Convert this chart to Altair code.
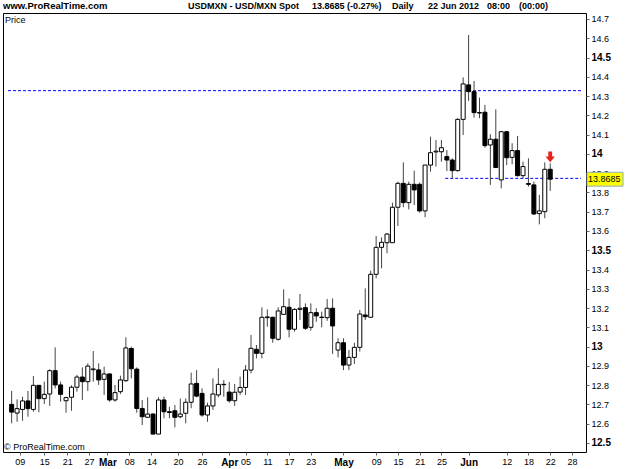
import altair as alt
import pandas as pd

# ---- data: USD/MXN daily candles (Feb .. 22 Jun 2012), one row per trading day ----
opens = [12.700, 12.655, 12.674, 12.718, 12.674, 12.799, 12.730, 12.754, 12.875, 12.801,
         12.719, 12.737, 12.789, 12.842, 12.818, 12.880, 12.879, 12.830, 12.858, 12.723,
         12.766, 12.823, 12.990, 12.883, 12.679, 12.633, 12.650, 12.546, 12.723, 12.662,
         12.667, 12.636, 12.654, 12.711, 12.809, 12.757, 12.645, 12.692, 12.749, 12.804,
         12.764, 12.719, 12.764, 12.788, 12.878, 12.986, 12.965, 13.150, 13.152, 13.038,
         13.167, 13.204, 13.090, 13.193, 13.202, 13.100, 13.176, 13.151, 13.150, 13.199,
         12.982, 13.020, 12.904, 12.944, 12.996, 13.164, 13.152, 13.375, 13.515, 13.539,
         13.539, 13.723, 13.847, 13.747, 13.842, 13.842, 13.704, 13.942, 14.010, 14.011,
         13.986, 13.968, 13.913, 14.179, 14.358, 14.323, 14.214, 14.216, 14.046, 14.076,
         13.865, 14.115, 13.982, 14.017, 13.887, 13.846, 13.839, 13.690, 13.700, 13.920]
highs = [12.770, 12.726, 12.740, 12.770, 12.847, 12.800, 12.818, 12.882, 12.996, 12.818,
         12.740, 12.799, 12.853, 12.892, 12.913, 12.977, 12.913, 12.896, 12.861, 12.801,
         12.849, 13.048, 13.000, 12.892, 12.723, 12.737, 12.654, 12.737, 12.740, 12.688,
         12.697, 12.730, 12.731, 12.865, 12.878, 12.783, 12.709, 12.835, 12.887, 12.826,
         12.816, 12.806, 12.844, 12.904, 13.060, 13.008, 13.204, 13.193, 13.155, 13.204,
         13.297, 13.250, 13.199, 13.273, 13.224, 13.224, 13.199, 13.181, 13.247, 13.250,
         13.043, 13.043, 12.982, 13.020, 13.190, 13.302, 13.394, 13.574, 13.567, 13.588,
         13.747, 13.856, 13.956, 13.856, 13.913, 13.851, 13.942, 14.089, 14.072, 14.072,
         14.020, 13.977, 14.185, 14.397, 14.617, 14.378, 14.292, 14.254, 14.102, 14.231,
         14.119, 14.119, 14.055, 14.093, 13.960, 13.977, 13.856, 13.787, 13.956, 13.951]
lows = [12.602, 12.610, 12.615, 12.636, 12.662, 12.659, 12.702, 12.692, 12.783, 12.714,
        12.657, 12.667, 12.766, 12.723, 12.770, 12.818, 12.801, 12.749, 12.714, 12.714,
        12.754, 12.818, 12.835, 12.657, 12.593, 12.633, 12.546, 12.546, 12.628, 12.628,
        12.581, 12.628, 12.602, 12.680, 12.737, 12.636, 12.610, 12.671, 12.737, 12.740,
        12.709, 12.692, 12.749, 12.749, 12.861, 12.939, 12.939, 13.103, 13.020, 13.031,
        13.164, 13.048, 13.077, 13.138, 13.086, 13.083, 13.129, 13.100, 13.134, 12.962,
        12.944, 12.878, 12.878, 12.910, 12.974, 13.138, 13.152, 13.354, 13.406, 13.484,
        13.539, 13.626, 13.723, 13.712, 13.735, 13.695, 13.671, 13.908, 13.934, 13.960,
        13.911, 13.873, 13.908, 14.098, 14.275, 14.188, 14.185, 14.032, 13.839, 13.929,
        13.821, 13.942, 13.946, 13.882, 13.873, 13.830, 13.683, 13.634, 13.666, 13.808]
closes = [12.660, 12.678, 12.718, 12.678, 12.799, 12.730, 12.752, 12.875, 12.801, 12.752,
          12.735, 12.789, 12.842, 12.818, 12.899, 12.884, 12.827, 12.858, 12.723, 12.761,
          12.827, 12.993, 12.885, 12.679, 12.636, 12.650, 12.546, 12.723, 12.662, 12.658,
          12.633, 12.650, 12.711, 12.806, 12.743, 12.645, 12.692, 12.754, 12.804, 12.802,
          12.719, 12.763, 12.788, 12.878, 12.991, 12.965, 13.152, 13.154, 13.043, 13.185,
          13.207, 13.090, 13.193, 13.199, 13.095, 13.176, 13.159, 13.153, 13.199, 13.107,
          13.020, 12.904, 12.944, 12.996, 13.169, 13.155, 13.375, 13.515, 13.541, 13.584,
          13.723, 13.847, 13.747, 13.842, 13.813, 13.704, 13.942, 14.006, 14.014, 14.032,
          13.968, 13.913, 14.179, 14.363, 14.323, 14.214, 14.212, 14.043, 14.076, 13.929,
          14.115, 13.980, 14.017, 13.887, 13.934, 13.842, 13.688, 13.704, 13.920, 13.8685]

# horizontal support / resistance lines (price, first bar index)
line_levels = [14.328, 13.873]
line_starts = [-0.67, 79.7]

# x-axis ticks (bar index) and their labels
tick_idx = [1.5, 6, 10.2, 14.2, 17.6, 21.6, 25.7, 30.6, 35, 40, 43, 47, 51, 55, 61, 67, 71, 75, 79, 84,
            91, 95, 99, 103]
tick_lbl = ["09", "15", "21", "27", "Mar", "08", "14", "20", "26", "Apr", "05", "11", "17", "23",
            "May", "09", "15", "21", "25", "Jun", "12", "18", "22", "28"]
month_idx = [17.6, 40, 61, 84]
y_ticks = [round(12.5 + 0.1 * i, 1) for i in range(23)]

X_MIN, X_MAX = -0.67, 104.66
Y_MIN, Y_MAX = 12.453, 14.731
FONT = "Liberation Sans"

df = pd.DataFrame({
    "i": list(range(len(opens))),
    "open": opens, "high": highs, "low": lows, "close": closes,
})

xs = alt.Scale(domain=[X_MIN, X_MAX], nice=False, zero=False)
ys = alt.Scale(domain=[Y_MIN, Y_MAX], nice=False, zero=False)

lbl_expr = "[" + ",".join("'%s'" % s for s in tick_lbl) + "][indexof([" + ",".join(str(v) for v in tick_idx) + "], datum.value)]"
month_test = "indexof([" + ",".join(str(v) for v in month_idx) + "], datum.value) >= 0"
half_test = "abs(datum.value*2 - round(datum.value*2)) < 0.01"

xaxis = alt.Axis(values=tick_idx, labelExpr=lbl_expr, title=None, grid=False, domain=False,
                 tickSize=3, tickColor="#666666", labelPadding=2, labelFont=FONT,
                 labelColor="black", labelOverlap=False,
                 labelFontSize={"condition": {"test": month_test, "value": 10}, "value": 9},
                 labelFontWeight={"condition": {"test": month_test, "value": "bold"}, "value": "normal"})
yaxis = alt.Axis(values=y_ticks, labelExpr="format(datum.value, '.1~f')", orient="right",
                 title=None, grid=False, domain=False, tickSize=3, tickColor="#666666",
                 labelPadding=2, labelFont=FONT, labelColor="black", labelOverlap=False,
                 labelFontSize={"condition": {"test": half_test, "value": 10}, "value": 9},
                 labelFontWeight={"condition": {"test": half_test, "value": "bold"}, "value": "normal"})


def X(f):
    return alt.X(f, scale=xs, axis=xaxis)


def Y(f):
    return alt.Y(f, scale=ys, axis=yaxis)


base = alt.Chart(df)
wicks = base.mark_rule(color="#444444", strokeWidth=1).encode(
    x=X("i:Q"), y=Y("low:Q"), y2="high:Q")
bodies = base.mark_bar(size=4, stroke="black", strokeWidth=1).encode(
    x=X("i:Q"), y=Y("open:Q"), y2="close:Q",
    fill=alt.condition("datum.close >= datum.open", alt.value("white"), alt.value("black")),
)

lines_df = pd.DataFrame({"y": line_levels, "x1": line_starts, "x2": [X_MAX] * len(line_levels)})
hlines = alt.Chart(lines_df).mark_rule(color="#0000ff", strokeDash=[3, 2], strokeWidth=1).encode(
    x=X("x1:Q"), x2="x2:Q", y=Y("y:Q"))

last_df = pd.DataFrame({"p": [closes[-1]], "h": [highs[-1]], "i": [len(closes) - 1]})
last = alt.Chart(last_df)
price_box = last.mark_rect(fill="#ffff00", stroke="#8fa8c8", strokeWidth=1).transform_calculate(
    top="datum.p + 0.036", bot="datum.p - 0.036").encode(
    x=alt.value(584), x2=alt.value(620), y=Y("top:Q"), y2="bot:Q")
price_txt = last.mark_text(align="left", baseline="middle", font=FONT, fontSize=9, color="black").encode(
    x=alt.value(585), y=Y("p:Q"), text=alt.Text("p:Q", format=".4f"))

arrow_path = "M-0.35,-1 L0.35,-1 L0.35,-0.1 L0.85,-0.1 L0,0.95 L-0.85,-0.1 L-0.35,-0.1 Z"
arrow = last.mark_point(shape=arrow_path, filled=True, color="#e8231c", opacity=1, size=121).transform_calculate(
    ay="datum.h + 0.033").encode(x=X("i:Q"), y=Y("ay:Q"))


def label(text, px, py, size=9, weight="normal"):
    return alt.Chart(pd.DataFrame({"t": [text]})).mark_text(
        align="left", baseline="middle", font=FONT, fontSize=size, fontWeight=weight,
        color="black").encode(x=alt.value(px), y=alt.value(py), text="t:N")


title_texts = ["www.ProRealTime.com", "USDMXN - USD/MXN Spot", "13.8685 (-0.27%)",
               "Daily", "22 Jun 2012", "08:00", "(00:00)"]
title_x = [0, 185, 309, 389, 425, 484, 516]
title_size = [9.5, 9, 9, 9, 9, 9, 9]
titles = [label(t, px, -7, s, "bold") for t, px, s in zip(title_texts, title_x, title_size)]
smalls = [label("Price", 2, 7), label("\u00a9 ProRealTime.com", 1, 434)]

chart = alt.layer(hlines, wicks, bodies, arrow, price_box, price_txt, *titles, *smalls).properties(
    width=583, height=439,
    autosize=alt.AutoSizeParams(type="none"),
    padding={"left": 3, "top": 13, "right": 39, "bottom": 17},
    background="white",
).configure_view(stroke="black", strokeWidth=1)

chart.save("out.html", embed_options={"renderer": "svg", "actions": False})
